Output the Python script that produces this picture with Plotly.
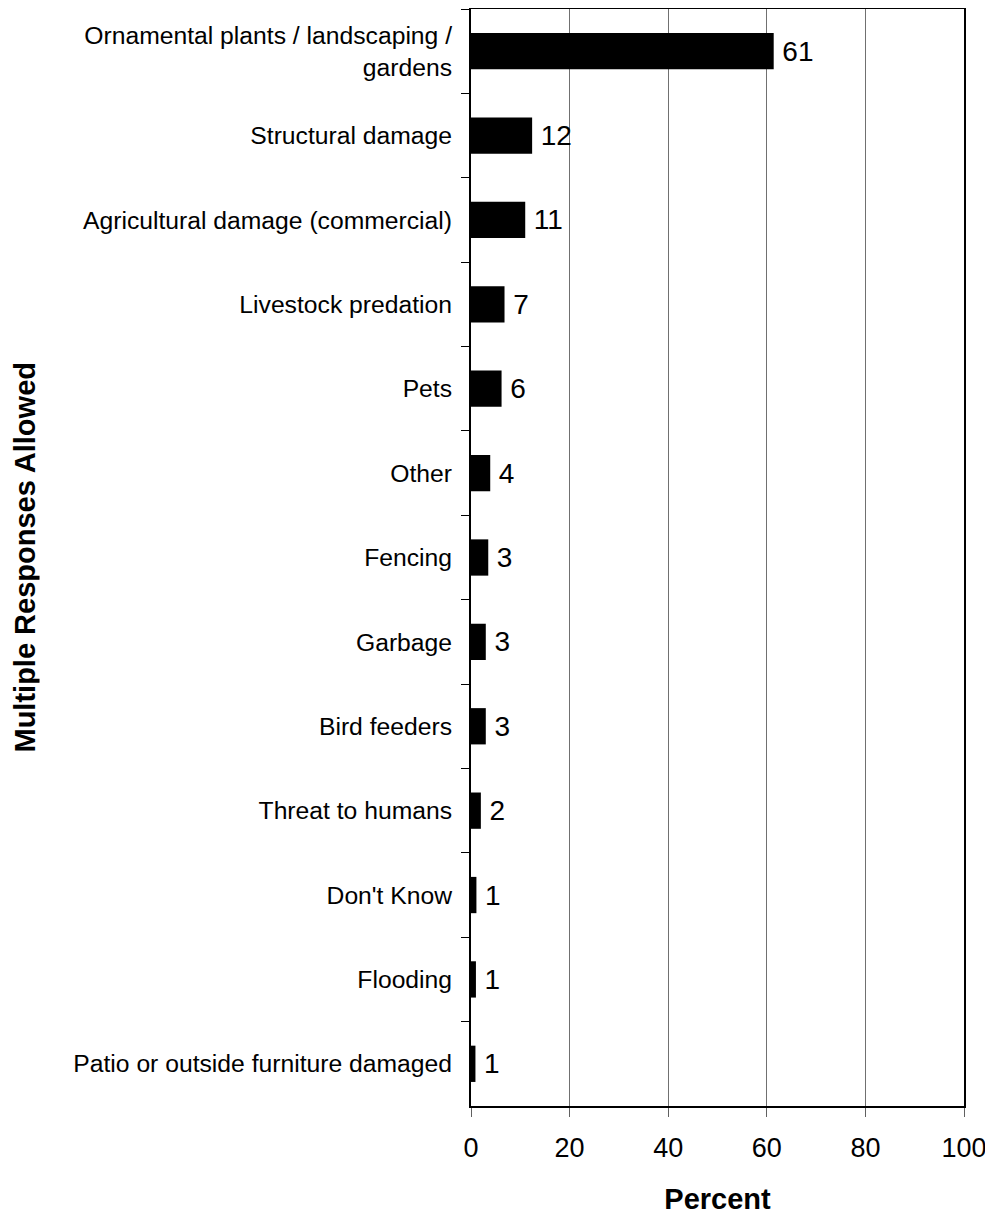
import plotly.graph_objects as go

categories = [
    "Ornamental plants / landscaping /<br>gardens",
    "Structural damage",
    "Agricultural damage (commercial)",
    "Livestock predation",
    "Pets",
    "Other",
    "Fencing",
    "Garbage",
    "Bird feeders",
    "Threat to humans",
    "Don't Know",
    "Flooding",
    "Patio or outside furniture damaged",
]
values = [61.4, 12.4, 11.0, 6.8, 6.2, 3.9, 3.5, 3.0, 3.0, 2.0, 1.1, 1.0, 0.9]
value_labels = ["61", "12", "11", "7", "6", "4", "3", "3", "3", "2", "1", "1", "1"]
x_ticks = [0, 20, 40, 60, 80, 100]

FONT = "Arial, 'Liberation Sans', sans-serif"

fig = go.Figure()
fig.add_trace(go.Bar(
    y=categories,
    x=values,
    orientation="h",
    marker=dict(color="black", line=dict(width=0)),
    text=["\u2009" + t for t in value_labels],
    texttemplate="%{text}",
    textposition="outside",
    textfont=dict(family=FONT, size=28, color="black"),
    constraintext="none",
    cliponaxis=False,
    width=0.43,
))

# page body has an 8px margin, so the figure is sized 8px smaller
fig.update_layout(
    width=985,
    height=1207,
    margin=dict(l=463, r=29, t=1, b=109),
    paper_bgcolor="white",
    plot_bgcolor="white",
    showlegend=False,
    font=dict(family=FONT, color="black"),
    xaxis=dict(
        range=[0, 100],
        tickvals=x_ticks,
        ticks="outside",
        ticklen=9,
        tickcolor="#606060",
        tickfont=dict(size=27, family=FONT),
        ticklabelstandoff=8,
        showgrid=True,
        gridcolor="#707070",
        gridwidth=1,
        zeroline=False,
        showline=True,
        linecolor="black",
        linewidth=2,
        mirror=True,
        automargin=False,
        title=dict(text="<b>Percent</b>", font=dict(size=29, family=FONT), standoff=26),
    ),
    yaxis=dict(
        categoryorder="array",
        categoryarray=categories,
        autorange="reversed",
        ticks="outside",
        tickson="boundaries",
        ticklen=8,
        tickcolor="black",
        tickfont=dict(size=24.7, family=FONT),
        ticklabelstandoff=12,
        showgrid=False,
        zeroline=False,
        showline=True,
        linecolor="black",
        linewidth=2,
        mirror=True,
        automargin=False,
    ),
    annotations=[dict(
        text="<b>Multiple Responses Allowed</b>",
        xref="paper", yref="paper",
        x=0, y=0.5,
        xshift=-447,
        xanchor="center", yanchor="middle",
        textangle=-90,
        height=30,
        borderpad=0,
        showarrow=False,
        font=dict(size=29, family=FONT, color="black"),
    )],
)

fig.write_html("out.html")
